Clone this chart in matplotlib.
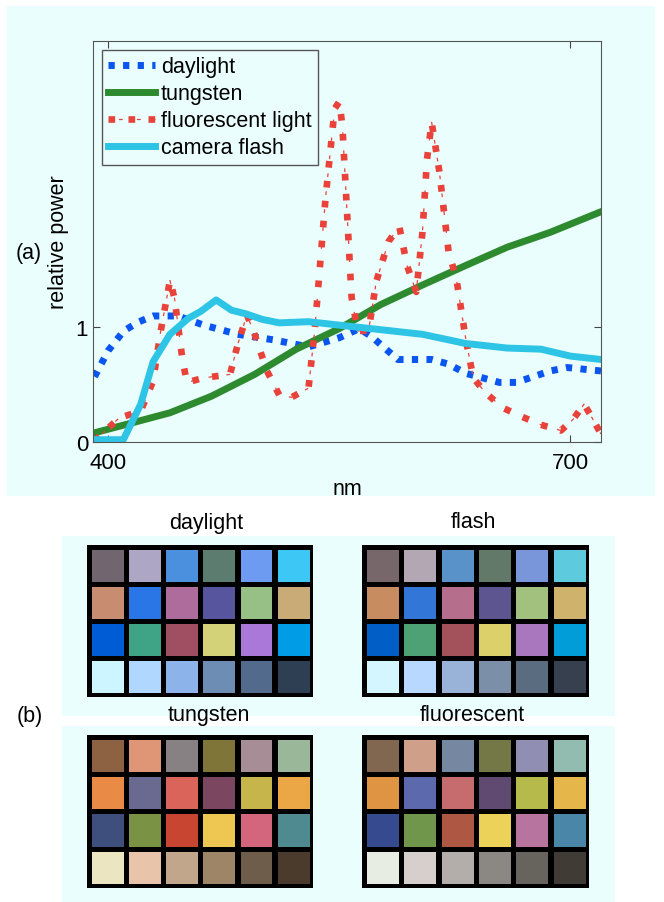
import matplotlib
matplotlib.use("Agg")
import matplotlib.pyplot as plt
from matplotlib.patches import Rectangle
import numpy as np

plt.rcParams['font.family'] = ['Liberation Sans', 'DejaVu Sans']

# spectra (nm, relative power)
day_nm = [391, 400, 410, 420, 429, 445, 462, 484, 508, 530, 550, 563, 571, 588, 610, 621, 632, 654, 665, 687, 698, 720]
day_pw = [0.57, 0.80, 0.97, 1.05, 1.10, 1.10, 1.02, 0.94, 0.89, 0.83, 0.91, 0.99, 0.92, 0.72, 0.72, 0.68, 0.60, 0.52, 0.52, 0.62, 0.65, 0.62]

tung_nm = [391, 440, 467, 495, 522, 550, 577, 604, 632, 659, 687, 720]
tung_pw = [0.08, 0.255, 0.40, 0.59, 0.81, 0.99, 1.20, 1.37, 1.54, 1.70, 1.83, 2.01]

flash_nm = [390, 409.7, 421, 429, 440, 452, 460, 470, 480, 489, 500, 511, 530, 550, 577, 604, 632, 659, 681, 700, 720]
flash_pw = [0.02, 0.02, 0.33, 0.70, 0.94, 1.08, 1.14, 1.24, 1.15, 1.12, 1.07, 1.04, 1.05, 1.02, 0.98, 0.94, 0.86, 0.82, 0.81, 0.75, 0.72]

fluo_nm = [391, 407, 421, 429, 434, 440, 443, 448, 451, 462, 479, 484, 490, 495, 503, 511, 519, 530, 534, 541, 547,
           550, 552, 555, 558, 562, 569, 574, 582, 589, 594, 600, 604, 607, 610, 615, 621, 626, 632, 637, 645, 656,
           667, 681, 694, 702, 709, 713, 720]
fluo_pw = [0.01, 0.21, 0.27, 0.53, 0.97, 1.41, 1.25, 0.73, 0.52, 0.56, 0.59, 0.85, 1.11, 0.94, 0.62, 0.41, 0.39, 0.47,
           0.97, 2.12, 2.91, 2.97, 2.76, 2.01, 1.26, 0.97, 0.97, 1.40, 1.75, 1.88, 1.54, 1.31, 1.83, 2.47, 2.79, 2.36,
           1.66, 1.43, 0.91, 0.56, 0.43, 0.30, 0.23, 0.15, 0.10, 0.20, 0.33, 0.24, 0.07]

# colour checker patches under each light (rows top to bottom)
checker_titles = ["daylight", "flash", "tungsten", "fluorescent"]
checker_daylight = [
    ["#716570", "#ADA6C5", "#4A90DE", "#5C7C70", "#6E9BF2", "#3CC7F5"],
    ["#C88C70", "#2B76E6", "#AE6C9C", "#56559D", "#96C086", "#C9AB77"],
    ["#005CD4", "#3FA386", "#A04F63", "#D3D278", "#A978D8", "#009CE6"],
    ["#CCF5FF", "#B0D8FF", "#8DB4EA", "#6E8DB5", "#526A8C", "#2F3F53"],
]
checker_flash = [
    ["#77676B", "#B3A7B4", "#5892C8", "#62796A", "#7A96DB", "#5ECADE"],
    ["#C78D60", "#3277D8", "#B56F8D", "#5C5590", "#A2C07E", "#CFB26B"],
    ["#005EC6", "#4DA175", "#A3525B", "#DBD06A", "#A977BE", "#009DD8"],
    ["#D4F6FF", "#B8D8FF", "#99B2D8", "#7C8FA8", "#5A6C80", "#37404F"],
]
checker_tungsten = [
    ["#8C6242", "#DE9677", "#878183", "#7F7539", "#A68D96", "#9BB799"],
    ["#E98A46", "#6A698F", "#DA645A", "#7A4660", "#C6B54A", "#EBA646"],
    ["#3F4F7D", "#7A9243", "#C84531", "#EEC752", "#D3657D", "#4E8A8F"],
    ["#EBE5C2", "#E8C4AA", "#C1A68C", "#9E8568", "#6F5D4B", "#4A3B2C"],
]
checker_fluo = [
    ["#81674F", "#CF9F89", "#7688A1", "#737846", "#918EB3", "#92BCAF"],
    ["#DF9444", "#5C69AD", "#C76C6E", "#614A72", "#B6BA4B", "#E5B64A"],
    ["#364B8F", "#6F964A", "#AE5742", "#ECD258", "#B6749E", "#4986A8"],
    ["#E8EDE3", "#D7CFCC", "#B3AEA9", "#8B8782", "#66645C", "#403B34"],
]

W, H = 664, 903
bg = "#eafffd"
fig = plt.figure(figsize=(W / 100, H / 100), dpi=100)


def fbox(x0, y0, x1, y1):
    # pixel box (top-left origin) -> figure fraction rect
    return [x0 / W, 1 - y1 / H, (x1 - x0) / W, (y1 - y0) / H]


# background panels
for x0, y0, x1, y1 in [(7, 7, 655, 497), (62, 537, 615, 717), (62, 727, 615, 903)]:
    r = fbox(x0, y0, x1, y1)
    fig.patches.append(Rectangle((r[0], r[1]), r[2], r[3], transform=fig.transFigure,
                                 facecolor=bg, edgecolor="none", zorder=-5))

# (a) spectra
ax = fig.add_axes(fbox(93, 42, 601, 443))
ax.set_facecolor(bg)
red = "#e8423a"
l1, = ax.plot(day_nm, day_pw, color="#0a55f0", lw=5, ls=(0, (0.9, 1.2)))
l2, = ax.plot(tung_nm, tung_pw, color="#2e8a2e", lw=5)
# fluorescent: thick squares with thin dashes in between
l3a, = ax.plot(fluo_nm, fluo_pw, color=red, lw=4.8, ls=(0, (1, 2)))
l3b, = ax.plot(fluo_nm, fluo_pw, color=red, lw=0.9, ls=(6, (3, 11.4)))
l4, = ax.plot(flash_nm, flash_pw, color="#2ec4e6", lw=5)
ax.set_xlim(390, 720)
ax.set_ylim(0, 3.5)
ax.set_xticks([400, 700])
ax.set_yticks([0, 1])
ax.tick_params(direction="in", top=True, right=True, labelsize=16, length=5, color="#444444")
ax.tick_params(axis="x", pad=7)
for s in ax.spines.values():
    s.set_color("#555555")
ax.set_xlabel("nm", fontsize=15.5, labelpad=4)
ax.set_ylabel("relative power", fontsize=15.5, labelpad=5)
leg = ax.legend([l1, l2, (l3a, l3b), l4],
                ["daylight", "tungsten", "fluorescent light", "camera flash"],
                loc="upper left", fontsize=15.5, handlelength=2.2, borderaxespad=0.4,
                fancybox=False, framealpha=1, labelspacing=0.28, handletextpad=0.25,
                borderpad=0.3)
leg.get_frame().set_edgecolor("#555555")
leg.get_frame().set_facecolor(bg)

fig.text(29 / W, 1 - 253 / H, "(a)", fontsize=15.5, ha="center", va="center")
fig.text(30 / W, 1 - 717 / H, "(b)", fontsize=15.5, ha="center", va="center")

# (b) colour checkers
grids = [checker_daylight, checker_flash, checker_tungsten, checker_fluo]
boxes = [(87, 546, 313, 698), (362, 546, 589, 698), (87, 736, 313, 889), (362, 736, 589, 889)]
title_pos = [(206, 523), (473, 523), (209, 716), (472, 716)]
for grid, box, title, tp in zip(grids, boxes, checker_titles, title_pos):
    g = fig.add_axes(fbox(*box))
    g.set_facecolor("black")
    m, p = 0.13, 0.86
    for i, row in enumerate(grid):
        for j, c in enumerate(row):
            g.add_patch(Rectangle((j + m, i + m), p, p, facecolor=c, edgecolor="none"))
    g.set_xlim(0, 6.08)
    g.set_ylim(4.1, 0)
    g.set_xticks([])
    g.set_yticks([])
    for s in g.spines.values():
        s.set_visible(False)
    fig.text(tp[0] / W, 1 - tp[1] / H, title, fontsize=15.5, ha="center", va="center")

fig.savefig("out.png", dpi=100)
